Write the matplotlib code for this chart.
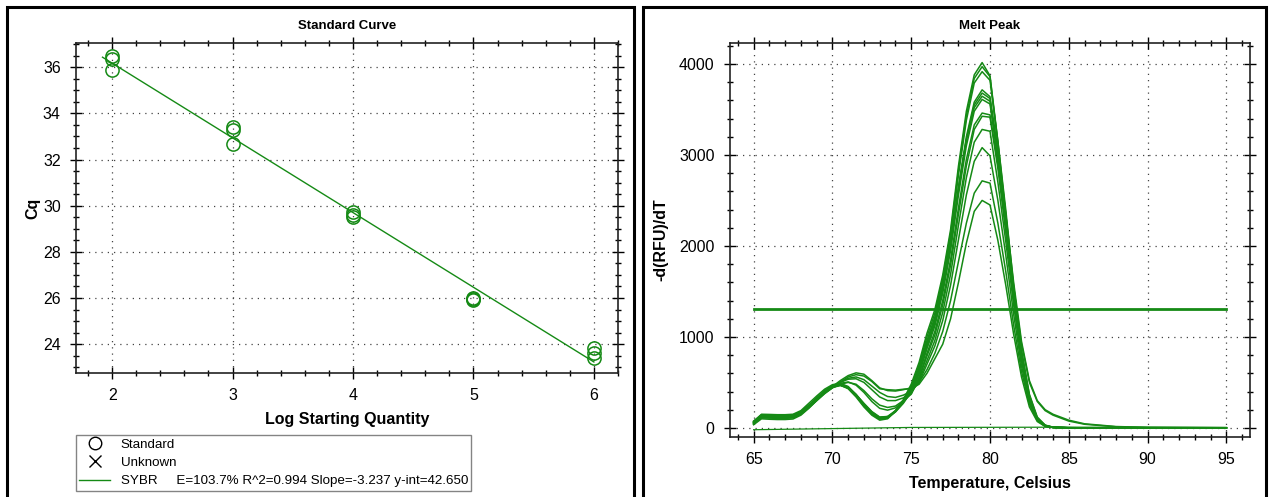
import matplotlib.pyplot as plt
from matplotlib.lines import Line2D
from matplotlib.patches import Rectangle
from matplotlib.ticker import MultipleLocator

plt.rcParams['font.family'] = ['Liberation Sans', 'DejaVu Sans']

# Standard curve: log starting quantity vs Cq (three replicates per dilution)
std_log = [2, 2, 2, 3, 3, 3, 4, 4, 4, 5, 5, 5, 6, 6, 6]
std_cq = [36.5, 36.35, 35.9, 33.42, 33.28, 32.67, 29.72, 29.6, 29.5,
          26.0, 25.97, 25.92, 23.85, 23.63, 23.38]
fit_slope = -3.237
fit_int = 42.650
fit_range = [1.92, 6.0]
fit_label = "SYBR     E=103.7% R^2=0.994 Slope=-3.237 y-int=42.650"

# Melt peak: -d(RFU)/dT per well
temps = [65.0, 65.5, 66.0, 66.5, 67.0, 67.5, 68.0, 68.5, 69.0, 69.5, 70.0,
         70.5, 71.0, 71.5, 72.0, 72.5, 73.0, 73.5, 74.0, 74.5, 75.0,
         75.5, 76.0, 76.5, 77.0, 77.5, 78.0, 78.5, 79.0, 79.5, 80.0,
         80.5, 81.0, 81.5, 82.0, 82.5, 83.0, 83.5,
         84.0, 85.0, 86.0, 88.0, 90.0, 95.0]

well_a = [50, 140, 135, 130, 130, 135, 175, 250, 330, 410, 465, 480, 440, 350, 240, 150, 95, 110, 190, 310, 480,
          720, 1040, 1300, 1680, 2180, 2880, 3480, 3880, 4015, 3870, 3150, 2350, 1500, 800, 330, 100, 25,
          6, 2, 1, 0, 0, 0]
well_b = [40, 120, 118, 115, 115, 120, 160, 235, 320, 400, 455, 470, 430, 340, 230, 140, 85, 100, 180, 300, 460,
          690, 1000, 1260, 1640, 2140, 2830, 3430, 3840, 3970, 3860, 3120, 2320, 1480, 780, 310, 90, 20,
          4, 1, 0, 0, 0, 0]
well_c = [70, 150, 148, 145, 145, 150, 190, 270, 350, 425, 475, 490, 455, 365, 255, 165, 105, 115, 185, 295, 440,
          660, 960, 1220, 1600, 2100, 2780, 3380, 3790, 3915, 3820, 3150, 2400, 1560, 850, 360, 110, 30,
          8, 2, 1, 0, 0, 0]
well_d = [55, 130, 125, 122, 122, 128, 165, 240, 320, 400, 455, 475, 440, 355, 250, 160, 100, 110, 180, 290, 420,
          630, 920, 1170, 1540, 2020, 2650, 3200, 3580, 3715, 3640, 3050, 2350, 1600, 950, 520, 300, 200,
          150, 85, 45, 15, 6, 2]
well_e = [35, 100, 95, 92, 92, 98, 140, 215, 300, 385, 445, 470, 440, 360, 260, 170, 110, 115, 175, 270, 400,
          610, 900, 1150, 1520, 2000, 2620, 3170, 3550, 3680, 3620, 2980, 2250, 1450, 780, 320, 95, 22,
          5, 1, 0, 0, 0, 0]
well_f = [60, 135, 130, 128, 128, 133, 170, 245, 325, 405, 460, 480, 450, 370, 265, 175, 115, 125, 190, 300, 430,
          650, 940, 1190, 1560, 2040, 2640, 3160, 3520, 3645, 3590, 3000, 2300, 1520, 850, 370, 120, 30,
          8, 2, 1, 0, 0, 0]
well_g = [45, 110, 108, 105, 105, 110, 150, 225, 310, 390, 445, 465, 440, 365, 270, 180, 120, 125, 180, 280, 390,
          590, 870, 1120, 1480, 1950, 2560, 3100, 3480, 3610, 3560, 2950, 2230, 1450, 790, 330, 100, 25,
          6, 1, 0, 0, 0, 0]
well_h = [60, 125, 120, 118, 118, 124, 160, 230, 310, 390, 450, 490, 505, 470, 390, 290, 215, 195, 220, 290, 380,
          560, 820, 1060, 1400, 1850, 2420, 2950, 3330, 3460, 3440, 2900, 2250, 1550, 920, 500, 290, 190,
          140, 75, 40, 12, 5, 2]
well_i = [50, 115, 110, 108, 108, 114, 150, 220, 300, 380, 440, 480, 500, 480, 410, 320, 250, 225, 240, 300, 370,
          540, 790, 1020, 1350, 1790, 2350, 2880, 3280, 3425, 3415, 2850, 2150, 1420, 780, 330, 100, 25,
          6, 1, 0, 0, 0, 0]
well_j = [65, 130, 128, 125, 125, 130, 165, 230, 305, 385, 450, 500, 535, 540, 500, 420, 340, 300, 300, 330, 390,
          520, 740, 960, 1270, 1690, 2230, 2750, 3140, 3280, 3260, 2700, 2050, 1350, 740, 310, 95, 22,
          5, 1, 0, 0, 0, 0]
well_k = [70, 140, 135, 132, 132, 138, 175, 240, 310, 385, 450, 505, 545, 560, 530, 460, 390, 345, 335, 360, 400,
          500, 700, 900, 1180, 1570, 2070, 2560, 2930, 3080, 2990, 2500, 1900, 1250, 680, 280, 85, 20,
          5, 1, 0, 0, 0, 0]
well_l = [75, 145, 140, 138, 138, 143, 180, 245, 315, 390, 455, 520, 575, 605, 590, 520, 440, 410, 405, 420, 440,
          500, 640, 820, 1060, 1400, 1830, 2250, 2580, 2715, 2690, 2250, 1720, 1130, 620, 260, 80, 20,
          5, 1, 0, 0, 0, 0]
well_m = [60, 130, 128, 125, 125, 130, 165, 230, 300, 375, 440, 505, 560, 585, 570, 510, 430, 420, 415, 425, 430,
          480, 600, 760, 920, 1200, 1600, 2030, 2380, 2500, 2450, 2060, 1570, 1030, 560, 230, 70, 16,
          4, 1, 0, 0, 0, 0]
wells = [well_a, well_b, well_c, well_d, well_e, well_f, well_g,
         well_h, well_i, well_j, well_k, well_l, well_m]

# no-template well, flat along zero
ntc_temps = [65, 75, 85, 95]
ntc_vals = [-20, 5, 8, 5]

threshold = 1310
threshold_range = [65, 95]

green = '#158a15'
W, H = 1270, 497
fig = plt.figure(figsize=(W / 100, H / 100), dpi=100)

# panel frames
for x0, x1 in [(7, 634), (643, 1266)]:
    fig.patches.append(Rectangle((x0 / W, -0.05), (x1 - x0) / W, 1.05 - 7 / H,
                                 transform=fig.transFigure, fill=False,
                                 edgecolor='black', linewidth=2.2))


def style_axes(ax):
    ax.grid(True, which='major', color='#444444', linestyle=(0, (1, 4)), linewidth=0.9)
    ax.tick_params(which='both', direction='inout', top=True, right=True,
                   labeltop=False, labelright=False, labelsize=11.5, pad=7)
    ax.tick_params(which='major', length=8, width=1)
    ax.tick_params(which='minor', length=5, width=1)
    for s in ax.spines.values():
        s.set_linewidth(1.2)
        s.set_color('#222222')


# ---- Standard Curve ----
ax1 = fig.add_axes([76 / W, (H - 373) / H, 542 / W, 330 / H])
ax1.plot(fit_range, [fit_slope * x + fit_int for x in fit_range], color=green, lw=1.0)
ax1.plot(std_log, std_cq, 'o', mfc='none', mec=green, ms=9.5, mew=1.1)
ax1.set_xlim(1.7, 6.2)
ax1.set_ylim(22.75, 37.05)
ax1.xaxis.set_major_locator(MultipleLocator(1))
ax1.xaxis.set_minor_locator(MultipleLocator(0.2))
ax1.yaxis.set_major_locator(MultipleLocator(2))
ax1.yaxis.set_minor_locator(MultipleLocator(0.5))
style_axes(ax1)
ax1.set_title('Standard Curve', fontsize=9.5, fontweight='bold', pad=10)
ax1.set_xlabel('Log Starting Quantity', fontsize=11.5, fontweight='bold', labelpad=6)
ax1.set_ylabel('Cq', fontsize=11.5, fontweight='bold', labelpad=2)

handles = [Line2D([], [], ls='none', marker='o', mfc='none', mec='black', ms=9, mew=1),
           Line2D([], [], ls='none', marker='x', color='black', ms=9, mew=1),
           Line2D([], [], color=green, lw=1)]
fig.legend(handles, ['Standard', 'Unknown', fit_label], loc='upper left',
           bbox_to_anchor=(76 / W, 1 - 435 / H), borderaxespad=0, frameon=True,
           fancybox=False, edgecolor='#666666', fontsize=9.6, handlelength=2.3,
           handletextpad=0.8, labelspacing=0.45, borderpad=0.25)

# ---- Melt Peak ----
ax2 = fig.add_axes([730 / W, (H - 437) / H, 520 / W, 394 / H])
for vals in wells:
    ax2.plot(temps, vals, color=green, lw=1.1)
ax2.plot(ntc_temps, ntc_vals, color=green, lw=0.9)
ax2.plot(threshold_range, [threshold, threshold], color=green, lw=2.0)
ax2.set_xlim(63.5, 96.5)
ax2.set_ylim(-100, 4230)
ax2.xaxis.set_major_locator(MultipleLocator(5))
ax2.xaxis.set_minor_locator(MultipleLocator(1))
ax2.yaxis.set_major_locator(MultipleLocator(1000))
ax2.yaxis.set_minor_locator(MultipleLocator(200))
style_axes(ax2)
ax2.set_title('Melt Peak', fontsize=9.5, fontweight='bold', pad=10)
ax2.set_xlabel('Temperature, Celsius', fontsize=11.5, fontweight='bold', labelpad=6)
ax2.set_ylabel('-d(RFU)/dT', fontsize=11.5, fontweight='bold', labelpad=8)

fig.savefig('out.png', dpi=100)
